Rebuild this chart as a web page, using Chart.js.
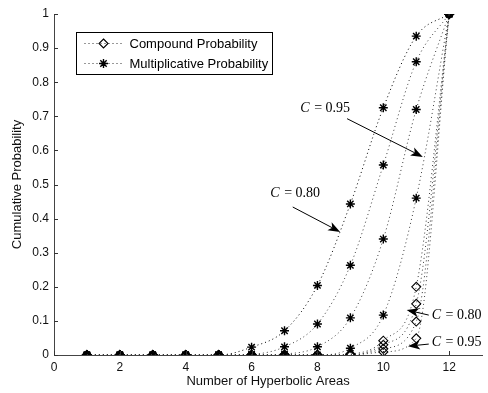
<!DOCTYPE html>
<html lang="en">
<head>
<meta charset="UTF-8">
<title>Cumulative Probability</title>
<script src="https://cdn.jsdelivr.net/npm/chart.js"></script>
<style>
  body { margin: 0; background: #fff; }
  canvas { display: block; }
</style>
</head>
<body>
<canvas id="myChart" width="488" height="393"></canvas>
<script>
  // number of hyperbolic areas
  const areas = [1, 2, 3, 4, 5, 6, 7, 8, 9, 10, 11, 12];

  // compound probability, C = 0.80, 0.85, 0.90, 0.95
  const comp80 = [0, 0, 0, 0, 0, 0, 0, 0, 0.003, 0.042, 0.200, 1];
  const comp85 = [0, 0, 0, 0, 0, 0, 0, 0, 0, 0.030, 0.150, 1];
  const comp90 = [0, 0, 0, 0, 0, 0, 0, 0, 0, 0.018, 0.098, 1];
  const comp95 = [0, 0, 0, 0, 0, 0, 0, 0, 0, 0.009, 0.049, 1];

  // multiplicative probability, same confidence levels
  const mult80 = [0, 0, 0, 0, 0, 0.023, 0.071, 0.204, 0.443, 0.725, 0.935, 1];
  const mult85 = [0, 0, 0, 0, 0, 0.002, 0.024, 0.091, 0.263, 0.557, 0.860, 1];
  const mult90 = [0, 0, 0, 0, 0, 0, 0.003, 0.024, 0.109, 0.340, 0.720, 1];
  const mult95 = [0, 0, 0, 0, 0, 0, 0, 0, 0.020, 0.117, 0.460, 1];

  const xTickValues = [0, 2, 4, 6, 8, 10, 12];
  const legendLabels = ['Compound Probability', 'Multiplicative Probability'];

  // labels with arrows, in data units (text anchor, arrow start, arrow tip)
  const notes = [
    { val: '0.95', tx: 8.22, ty: 0.722, align: 'center', sx: 8.90, sy: 0.693, hx: 11.20, hy: 0.581 },
    { val: '0.80', tx: 7.31, ty: 0.475, align: 'center', sx: 7.25, sy: 0.434, hx: 8.69, hy: 0.361 },
    { val: '0.80', tx: 11.47, ty: 0.117, align: 'left', sx: 11.38, sy: 0.117, hx: 10.71, hy: 0.132 },
    { val: '0.95', tx: 11.47, ty: 0.038, align: 'left', sx: 11.38, sy: 0.032, hx: 10.75, hy: 0.026 }
  ];

  function pts(ys) {
    return areas.map((x, i) => ({ x: x, y: ys[i] }));
  }

  const datasets = [];
  [comp80, comp85, comp90, comp95].forEach(ys => datasets.push({
    label: legendLabels[0],
    data: pts(ys),
    borderColor: '#3a3a3a',
    borderWidth: 1,
    borderDash: [1, 3],
    cubicInterpolationMode: 'monotone',
    pointStyle: 'rectRot',
    pointRadius: 4.5,
    pointBorderWidth: 1.1,
    pointBorderColor: '#000',
    pointBackgroundColor: 'rgba(0,0,0,0)'
  }));
  [mult80, mult85, mult90, mult95].forEach((ys, i) => datasets.push({
    label: legendLabels[1],
    data: pts(ys),
    borderColor: i === 0 ? '#000' : '#3a3a3a',
    borderWidth: 1,
    borderDash: [1, 3],
    cubicInterpolationMode: 'monotone',
    pointStyle: 'star',
    pointRadius: 4.5,
    pointBorderWidth: 1.4,
    pointBorderColor: '#000',
    pointBackgroundColor: '#000'
  }));

  function drawStar(c, x, y, r) {
    c.beginPath();
    for (let k = 0; k < 4; k++) {
      const a = k * Math.PI / 4;
      c.moveTo(x - r * Math.cos(a), y - r * Math.sin(a));
      c.lineTo(x + r * Math.cos(a), y + r * Math.sin(a));
    }
    c.stroke();
  }

  function drawDiamond(c, x, y, r) {
    c.beginPath();
    c.moveTo(x, y - r);
    c.lineTo(x + r, y);
    c.lineTo(x, y + r);
    c.lineTo(x - r, y);
    c.closePath();
    c.stroke();
  }

  // matlab style ticks pointing into the plot
  const inwardTicks = {
    id: 'inwardTicks',
    afterDraw(chart) {
      const c = chart.ctx, xs = chart.scales.x, ys = chart.scales.y;
      c.save();
      c.strokeStyle = '#333';
      c.lineWidth = 1;
      c.beginPath();
      xs.ticks.forEach(t => {
        const px = Math.round(xs.getPixelForValue(t.value)) + 0.5;
        c.moveTo(px, ys.bottom);
        c.lineTo(px, ys.bottom - 4);
      });
      ys.ticks.forEach(t => {
        const py = Math.round(ys.getPixelForValue(t.value)) + 0.5;
        c.moveTo(xs.left, py);
        c.lineTo(xs.left + 4, py);
      });
      c.stroke();
      c.restore();
    }
  };

  const boxLegend = {
    id: 'boxLegend',
    afterDraw(chart) {
      const c = chart.ctx, a = chart.chartArea;
      const bx = a.left + 22.5, by = a.top + 18.5, bw = 196, bh = 42;
      c.save();
      c.fillStyle = '#fff';
      c.fillRect(bx, by, bw, bh);
      c.strokeStyle = '#000';
      c.lineWidth = 1;
      c.strokeRect(bx, by, bw, bh);
      c.font = '13px "Liberation Sans", Arial, sans-serif';
      c.textBaseline = 'middle';
      legendLabels.forEach((lab, i) => {
        const y = by + 11 + i * 20;
        c.setLineDash([1, 3]);
        c.strokeStyle = '#333';
        c.beginPath();
        c.moveTo(bx + 8, y);
        c.lineTo(bx + 47, y);
        c.stroke();
        c.setLineDash([]);
        c.strokeStyle = '#000';
        if (i === 0) {
          c.lineWidth = 1.1;
          drawDiamond(c, bx + 27, y, 4.5);
        } else {
          c.lineWidth = 1.4;
          drawStar(c, bx + 27, y, 4.5);
        }
        c.lineWidth = 1;
        c.fillStyle = '#000';
        c.fillText(lab, bx + 53, y + 0.5);
      });
      c.restore();
    }
  };

  const arrowNotes = {
    id: 'arrowNotes',
    afterDraw(chart) {
      const c = chart.ctx, xs = chart.scales.x, ys = chart.scales.y;
      c.save();
      notes.forEach(n => {
        // label: italic C followed by " = value"
        const fItal = 'italic 14px "Liberation Serif", "DejaVu Serif", serif';
        const fReg = '14px "Liberation Serif", "DejaVu Serif", serif';
        const rest = ' = ' + n.val;
        c.font = fItal;
        const w1 = c.measureText('C').width;
        c.font = fReg;
        const w2 = c.measureText(rest).width;
        let x = xs.getPixelForValue(n.tx);
        const y = ys.getPixelForValue(n.ty);
        if (n.align === 'center') x -= (w1 + w2) / 2;
        c.fillStyle = '#000';
        c.textBaseline = 'middle';
        c.font = fItal;
        c.fillText('C', x, y);
        c.font = fReg;
        c.fillText(rest, x + w1 + 1, y);

        // arrow
        const x0 = xs.getPixelForValue(n.sx), y0 = ys.getPixelForValue(n.sy);
        const x1 = xs.getPixelForValue(n.hx), y1 = ys.getPixelForValue(n.hy);
        const ang = Math.atan2(y1 - y0, x1 - x0);
        const len = 12, half = 4.5;
        const bxp = x1 - len * Math.cos(ang), byp = y1 - len * Math.sin(ang);
        c.strokeStyle = '#000';
        c.lineWidth = 1;
        c.beginPath();
        c.moveTo(x0, y0);
        c.lineTo(bxp + 3 * Math.cos(ang), byp + 3 * Math.sin(ang));
        c.stroke();
        c.beginPath();
        c.moveTo(x1, y1);
        c.lineTo(bxp - half * Math.sin(ang), byp + half * Math.cos(ang));
        c.lineTo(bxp + 3 * Math.cos(ang), byp + 3 * Math.sin(ang));
        c.lineTo(bxp + half * Math.sin(ang), byp - half * Math.cos(ang));
        c.closePath();
        c.fill();
      });
      c.restore();
    }
  };

  const tickFont = { family: '"Liberation Sans", Arial, sans-serif', size: 12 };
  const titleFont = { family: '"Liberation Sans", Arial, sans-serif', size: 13 };

  new Chart(document.getElementById('myChart'), {
    type: 'line',
    data: { datasets: datasets },
    plugins: [inwardTicks, arrowNotes, boxLegend],
    options: {
      responsive: false,
      animation: false,
      layout: { padding: { top: 14, right: 0, left: 0, bottom: 0 } },
      plugins: { legend: { display: false }, tooltip: { enabled: false } },
      scales: {
        x: {
          type: 'linear',
          min: 0,
          max: 13,
          afterBuildTicks: s => { s.ticks = xTickValues.map(v => ({ value: v })); },
          afterFit: s => { s.height = 38; },
          grid: { drawOnChartArea: false, drawTicks: false },
          border: { color: '#444', width: 1 },
          ticks: { color: '#111', font: tickFont, padding: 5, maxRotation: 0, callback: v => String(v) },
          title: { display: true, text: 'Number of Hyperbolic Areas', color: '#111', font: titleFont, padding: { top: 0, bottom: 4 } }
        },
        y: {
          min: 0,
          max: 1,
          ticks: { stepSize: 0.1, color: '#111', font: tickFont, padding: 5, callback: v => String(parseFloat(v.toFixed(1))) },
          afterFit: s => { s.width = 54; },
          grid: { drawOnChartArea: false, drawTicks: false },
          border: { color: '#444', width: 1 },
          title: { display: true, text: 'Cumulative Probability', color: '#111', font: titleFont, padding: { top: 10, bottom: 0 } }
        }
      }
    }
  });
</script>
</body>
</html>
